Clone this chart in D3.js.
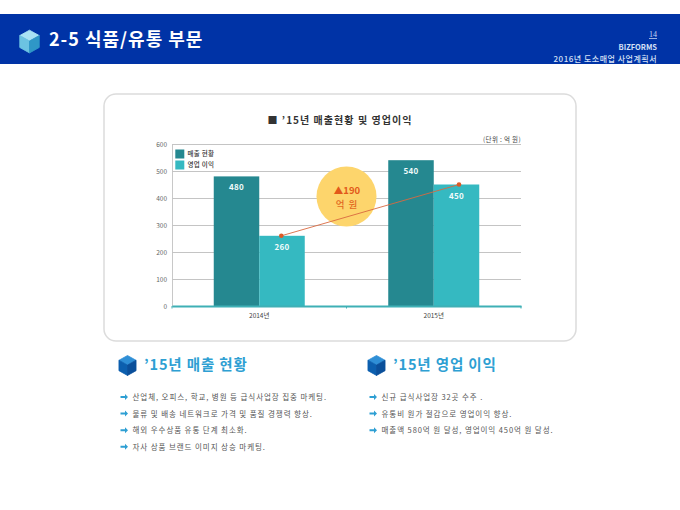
<!DOCTYPE html>
<html><head><meta charset="utf-8">
<script src="https://cdn.jsdelivr.net/npm/d3@7/dist/d3.min.js"></script>
<style>html,body{margin:0;padding:0;background:#fff}svg{display:block}text{font-family:"Noto Sans CJK KR","Noto Sans",sans-serif}</style>
</head><body><svg id="c" width="680" height="510"></svg>
<script>
const categories = ["2014년","2015년"];
const salesValues = [480,540];
const profitValues = [260,450];
const yTicks = [0,100,200,300,400,500,600];
const legendLabels = ["매출 현황","영업 이익"];
const leftBullets = ["산업체, 오피스, 학교, 병원 등 급식사업장 집중 마케팅.","물류 및 배송 네트워크로 가격 및 품질 경쟁력 향상.","해외 우수상품 유통 단계 최소화.","자사 상품 브랜드 이미지 상승 마케팅."];
const rightBullets = ["신규 급식사업장 32곳 수주 .","유통비 원가 절감으로 영업이익 향상.","매출액 580억 원 달성, 영업이익 450억 원 달성."];
const COL_SALES="#258890", COL_PROFIT="#35b9c1", COL_LINE="#d9693f";

const svg=d3.select("#c");
function cube(x,y,s,top,left,right){
  const g=svg.append("g").attr("transform",`translate(${x},${y}) scale(${s})`);
  g.append("polygon").attr("points","0,-10 9,-5 0,0 -9,-5").attr("fill",top).attr("stroke",top).attr("stroke-width",0.8).attr("stroke-linejoin","round");
  g.append("polygon").attr("points","-9,-5 0,0 0,11 -9,6").attr("fill",left).attr("stroke",left).attr("stroke-width",0.8).attr("stroke-linejoin","round");
  g.append("polygon").attr("points","9,-5 0,0 0,11 9,6").attr("fill",right).attr("stroke",right).attr("stroke-width",0.8).attr("stroke-linejoin","round");
}
// header
svg.append("rect").attr("x",0).attr("y",14).attr("width",680).attr("height",50).attr("fill","#0033a6");
cube(29.5,41,1.08,"#a9e2f4","#6cc3e2","#2f97c7");
svg.append("text").attr("x",49).attr("y",46).attr("font-size",18).attr("font-weight",700).attr("fill","#fff").attr("style","letter-spacing:1px").text("2-5 식품/유통 부문");
svg.append("text").attr("x",657).attr("y",37).attr("text-anchor","end").attr("font-size",8).attr("fill","#c5d4f2").attr("text-decoration","underline").attr("style","font-family:'Liberation Serif'").text("14");
svg.append("text").attr("x",657).attr("y",50).attr("text-anchor","end").attr("font-size",7.5).attr("font-weight",700).attr("fill","#d5e0f5").text("BIZFORMS");
svg.append("text").attr("x",657).attr("y",62).attr("text-anchor","end").attr("font-size",8).attr("font-weight",500).attr("fill","#d5e0f5").attr("style","letter-spacing:0.5px").text("2016년 도소매업 사업계획서");
// panel
svg.append("rect").attr("x",104).attr("y",94).attr("width",472).attr("height",247).attr("rx",12).attr("fill","#fff").attr("stroke","#dcdcdc").attr("stroke-width",1.5);
svg.append("text").attr("x",340).attr("y",124).attr("text-anchor","middle").attr("font-size",10).attr("font-weight",700).attr("fill","#333").attr("style","letter-spacing:1.05px").text("■ ’15년 매출현황 및 영업이익");
svg.append("text").attr("x",521).attr("y",142).attr("text-anchor","end").attr("font-size",6.5).attr("fill","#444").attr("style","letter-spacing:0.35px").text("(단위 : 억 원)");
// scales
const x0=d3.scaleBand().domain(categories).range([172,521]);
const x1=d3.scaleBand().domain(["s","p"]).range([0,x0.bandwidth()]).paddingOuter(0.9176).paddingInner(0);
const y=d3.scaleLinear().domain([0,600]).range([306,144]);
const xLine=d3.scalePoint().domain(categories).range([281.3,459]);
// grid + y axis
const gy=svg.append("g").attr("transform","translate(172,0)").call(d3.axisLeft(y).tickValues(yTicks).tickSize(-349).tickPadding(5));
gy.select(".domain").attr("stroke","#c8c8c8");
gy.selectAll(".tick line").attr("stroke","#c4c4c4");
gy.selectAll(".tick text").attr("font-size",6.5).attr("fill","#666").style("font-family","'Noto Sans CJK KR'");
// bars
const groups=svg.selectAll(".grp").data(categories).join("g").attr("transform",d=>`translate(${x0(d)},0)`);
groups.append("rect").attr("x",x1("s")).attr("width",x1.bandwidth()).attr("y",(d,i)=>y(salesValues[i])).attr("height",(d,i)=>y(0)-y(salesValues[i])).attr("fill",COL_SALES);
groups.append("rect").attr("x",x1("p")).attr("width",x1.bandwidth()).attr("y",(d,i)=>y(profitValues[i])).attr("height",(d,i)=>y(0)-y(profitValues[i])).attr("fill",COL_PROFIT);
groups.append("text").attr("x",x1("s")+x1.bandwidth()/2).attr("y",(d,i)=>y(salesValues[i])+14).attr("text-anchor","middle").attr("font-size",8).attr("font-weight",700).attr("fill","#f0fbfb").attr("style","letter-spacing:0.3px").text((d,i)=>salesValues[i]);
groups.append("text").attr("x",x1("p")+x1.bandwidth()/2).attr("y",(d,i)=>y(profitValues[i])+14).attr("text-anchor","middle").attr("font-size",8).attr("font-weight",700).attr("fill","#f0fbfb").attr("style","letter-spacing:0.3px").text((d,i)=>profitValues[i]);
// x axis
const gx=svg.append("g").attr("transform","translate(0,306)").call(d3.axisBottom(x0).tickSizeOuter(0).tickSize(0).tickPadding(7));
gx.select(".domain").attr("stroke","#3fb0b5").attr("stroke-width",2);
gx.selectAll(".tick text").attr("font-size",6.5).attr("fill","#444").style("font-family","'Noto Sans CJK KR'");
svg.selectAll(".xt").data([172,346.5,521]).join("line").attr("x1",d=>d).attr("x2",d=>d).attr("y1",306).attr("y2",308.5).attr("stroke","#3fb0b5").attr("stroke-width",1);
// circle
const cg=svg.append("g");
cg.append("circle").attr("cx",346.5).attr("cy",196.5).attr("r",30).attr("fill","#fdd56c");
cg.append("text").attr("x",347).attr("y",194).attr("text-anchor","middle").attr("font-size",9.5).attr("font-weight",700).attr("fill","#e2591a").text("▲190");
cg.append("text").attr("x",347).attr("y",207.5).attr("text-anchor","middle").attr("font-size",9.5).attr("font-weight",500).attr("fill","#e2691f").attr("style","letter-spacing:1px").text("억 원");
// line
const line=d3.line().x((d,i)=>xLine(categories[i])).y(d=>y(d));
svg.append("path").attr("d",line(profitValues)).attr("fill","none").attr("stroke",COL_LINE).attr("stroke-width",0.9);
svg.selectAll(".dot").data(profitValues).join("circle").attr("cx",(d,i)=>xLine(categories[i])).attr("cy",d=>y(d)).attr("r",2.3).attr("fill","#dd5a26");
// legend
legendLabels.forEach((t,i)=>{
  const yy=149.5+i*11;
  svg.append("rect").attr("x",175.3).attr("y",yy).attr("width",9).attr("height",9).attr("fill",i?COL_PROFIT:COL_SALES);
  svg.append("text").attr("x",187.5).attr("y",yy+6.5).attr("font-size",6.5).attr("font-weight",500).attr("fill","#333").attr("style","letter-spacing:0.3px").text(t);
});
// lower sections
function section(cx,tx,title,bullets){
  cube(cx,365,0.95,"#2f8fd6","#0c5fae","#0a4f9a");
  svg.append("text").attr("x",tx).attr("y",370).attr("font-size",14.5).attr("font-weight",700).attr("fill","#2e9fd3").attr("style","letter-spacing:0.85px").text(title);
  bullets.forEach((t,i)=>{
    const yy=397+i*16.6;
    svg.append("path").attr("d",`M${cx-7},${yy-1} h4.5 v-2 l3,3 l-3,3 v-2 h-4.5 z`).attr("fill","#2e9fd3");
    svg.append("text").attr("x",cx+5).attr("y",yy+3).attr("font-size",7.5).attr("fill","#555").attr("style","letter-spacing:0.92px").text(t);
  });
}
section(127.5,144,"’15년 매출 현황",leftBullets);
section(376.5,393,"’15년 영업 이익",rightBullets);
</script></body></html>
